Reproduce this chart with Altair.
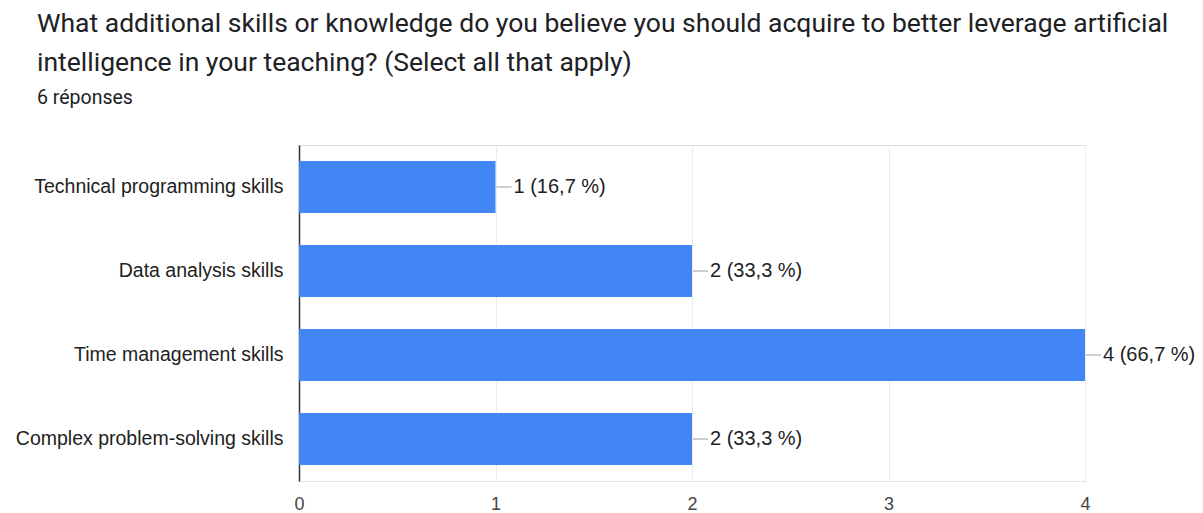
import altair as alt
import pandas as pd

categories = [
    "Technical programming skills",
    "Data analysis skills",
    "Time management skills",
    "Complex problem-solving skills",
]
counts = [1, 2, 4, 2]
labels = ["1 (16,7 %)", "2 (33,3 %)", "4 (66,7 %)", "2 (33,3 %)"]
tick_values = [0, 0.5, 1, 1.5, 2, 2.5, 3, 3.5, 4]

title_lines = [
    "What additional skills or knowledge do you believe you should acquire to better leverage artificial",
    "intelligence in your teaching? (Select all that apply)",
]
subtitle = "6 réponses"

df = pd.DataFrame({"cat": categories, "n": counts, "label": labels})

y_enc = alt.Y(
    "cat:N",
    sort=categories,
    title=None,
    scale=alt.Scale(paddingInner=0.38, paddingOuter=0.19),
    axis=alt.Axis(
        labelFont="Liberation Sans",
        labelFontSize=19.5,
        labelColor="#222222",
        labelPadding=16,
        ticks=False,
        domainColor="#333333",
        domainWidth=1.5,
        grid=False,
        labelLimit=320,
    ),
)
x_enc = alt.X(
    "n:Q",
    title=None,
    scale=alt.Scale(domain=[0, 4], nice=False),
    axis=alt.Axis(
        values=tick_values,
        format="d",
        labelExpr="datum.value % 1 == 0 ? datum.label : ''",
        labelFont="Liberation Sans",
        labelFontSize=18,
        labelColor="#444444",
        labelPadding=14,
        labelFlush=False,
        ticks=False,
        domainColor="#e6e6e6",
        gridColor="#ebebeb",
        grid=True,
    ),
)

base = alt.Chart(df)
bars = base.mark_bar(color="#4285f4").encode(x=x_enc, y=y_enc)
connector = base.mark_rule(color="#9e9e9e", strokeWidth=1, xOffset=1, x2Offset=16).encode(
    x="n:Q", x2="n:Q", y=alt.Y("cat:N", sort=categories, bandPosition=0.5)
)
text = base.mark_text(
    align="left", baseline="middle", dx=18, font="Liberation Sans", fontSize=20, color="#222222"
).encode(x="n:Q", y=alt.Y("cat:N", sort=categories), text="label:N")

chart = (
    alt.layer(bars, connector, text)
    .properties(
        width=786,
        height=336,
        autosize=alt.AutoSizeParams(type="none"),
        padding={"left": 299, "top": 145, "right": 118, "bottom": 32},
        title=alt.TitleParams(
            text=title_lines,
            subtitle=subtitle,
            anchor="start",
            frame="group",
            dx=-262,
            font="Roboto",
            fontSize=26.5,
            fontWeight="normal",
            color="#202124",
            lineHeight=39,
            subtitleFont="Roboto",
            subtitleFontSize=19.5,
            subtitleColor="#202124",
            subtitlePadding=12,
            offset=38,
        ),
    )
    .configure_view(stroke="#ebebeb")
    .configure(background="white")
)

chart.save("out.html", embed_options={"renderer": "svg", "actions": False})
